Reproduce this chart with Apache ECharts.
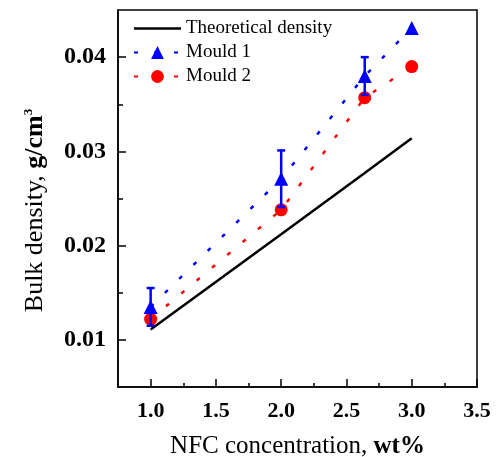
<!DOCTYPE html>
<html>
<head>
<meta charset="utf-8">
<script src="https://cdn.jsdelivr.net/npm/echarts@6/dist/echarts.min.js"></script>
<style>html,body{margin:0;padding:0;background:#fff}#c{width:498px;height:457px}</style>
</head>
<body>
<div id="c"></div>
<script>
var xMajorTicks = [1.0, 1.5, 2.0, 2.5, 3.0, 3.5];
var xMinorTicks = [1.25, 1.75, 2.25, 2.75, 3.25];
var yMajorTicks = [0.01, 0.02, 0.03, 0.04];
var yMinorTicks = [0.015, 0.025, 0.035];

var concentrations = [1.0, 2.0, 2.64, 3.0];
var theoretical = [0.0111, 0.0212, 0.0277, 0.0314];
var mould1 = [0.0135, 0.0271, 0.0380, 0.0431];
var mould1Err = [0.0020, 0.0030, 0.0020, 0.0];
var mould2 = [0.0122, 0.0238, 0.0357, 0.0390];

var FONT = '"Liberation Serif", "Times New Roman", serif';
var BLUE = '#0000ff', RED = '#ff0000';

function pairs(xs, ys) { return xs.map(function (x, i) { return [x, ys[i]]; }); }
var errData = concentrations.map(function (x, i) {
  return [x, mould1[i] - mould1Err[i], mould1[i] + mould1Err[i]];
}).filter(function (d, i) { return mould1Err[i] > 0; });

var chart = echarts.init(document.getElementById('c'), null, {renderer: 'canvas'});
chart.setOption({
  animation: false,
  backgroundColor: '#fff',
  grid: {left: 118, top: 10, right: 21, bottom: 70, show: true, borderColor: '#000', borderWidth: 1.5,
    backgroundColor: 'transparent', containLabel: false, outerBoundsMode: 'none'},
  legend: {
    left: 133, top: 19, padding: 0, orient: 'vertical', itemWidth: 47, itemHeight: 16, itemGap: 5,
    textStyle: {fontFamily: FONT, fontSize: 19, color: '#000', lineHeight: 19},
    data: [
      {name: 'Theoretical density', icon: 'path://M0,0L47,0L47,2.5L0,2.5Z', itemStyle: {color: '#000'}},
      'Mould 1', 'Mould 2'
    ]
  },
  xAxis: [{
    type: 'value', min: 0.75, max: 3.5,
    name: 'NFC concentration, {b|wt%}', nameLocation: 'middle', nameGap: 47,
    nameTextStyle: {fontFamily: FONT, fontSize: 25, color: '#000', rich: {b: {fontFamily: FONT, fontSize: 25, fontWeight: 'bold', color: '#000'}}},
    axisLine: {show: true, lineStyle: {color: '#000', width: 1.5}},
    axisTick: {show: true, inside: true, length: 8, lineStyle: {color: '#000', width: 1.5}, customValues: xMajorTicks},
    axisLabel: {fontFamily: FONT, fontSize: 22, fontWeight: 'bold', color: '#000', margin: 13,
      customValues: xMajorTicks, formatter: function (v) { return v.toFixed(1); }},
    splitLine: {show: false}
  }, {
    type: 'value', min: 0.75, max: 3.5, position: 'bottom', offset: 0,
    axisLine: {show: false},
    axisTick: {show: true, inside: true, length: 4, lineStyle: {color: '#000', width: 1.5}, customValues: xMinorTicks},
    axisLabel: {show: false}, splitLine: {show: false}
  }],
  yAxis: [{
    type: 'value', min: 0.005, max: 0.045,
    name: 'Bulk density, {b|g/cm}{s|3}', nameLocation: 'middle', nameGap: 70,
    nameTextStyle: {fontFamily: FONT, fontSize: 26, color: '#000', padding: [0, 24, 0, 0], rich: {
      b: {fontFamily: FONT, fontSize: 26, fontWeight: 'bold', color: '#000'},
      s: {fontFamily: FONT, fontSize: 13, fontWeight: 'bold', color: '#000', verticalAlign: 'top'}
    }},
    axisLine: {show: true, lineStyle: {color: '#000', width: 1.5}},
    axisTick: {show: true, inside: true, length: 8, lineStyle: {color: '#000', width: 1.5}, customValues: yMajorTicks},
    axisLabel: {fontFamily: FONT, fontSize: 24, fontWeight: 'bold', color: '#000', margin: 12,
      customValues: yMajorTicks, formatter: function (v) { return v.toFixed(2); }},
    splitLine: {show: false}
  }, {
    type: 'value', min: 0.005, max: 0.045, position: 'left', offset: 0,
    axisLine: {show: false},
    axisTick: {show: true, inside: true, length: 5, lineStyle: {color: '#000', width: 1.5}, customValues: yMinorTicks},
    axisLabel: {show: false}, splitLine: {show: false}
  }],
  series: [{
    name: 'Theoretical density', type: 'line', data: pairs(concentrations, theoretical),
    symbol: 'none', lineStyle: {color: '#000', width: 2.5}, itemStyle: {color: '#000'}, z: 2
  }, {
    name: 'Mould 2', type: 'line', data: pairs(concentrations, mould2),
    symbol: 'circle', symbolSize: 13, showAllSymbol: true,
    lineStyle: {color: RED, width: 2.5, type: [4, 16]}, itemStyle: {color: RED}, z: 3
  }, {
    name: 'Mould 1', type: 'line', data: pairs(concentrations, mould1),
    symbol: 'triangle', symbolSize: 14, showAllSymbol: true,
    lineStyle: {color: BLUE, width: 2.5, type: [4, 16]}, itemStyle: {color: BLUE}, z: 4
  }, {
    name: 'err', type: 'custom', data: errData, z: 5,
    renderItem: function (params, api) {
      var x = api.value(0);
      var lo = api.coord([x, api.value(1)]);
      var hi = api.coord([x, api.value(2)]);
      var w = 4;
      var st = {stroke: BLUE, lineWidth: 2.5};
      return {type: 'group', children: [
        {type: 'line', shape: {x1: lo[0], y1: lo[1], x2: hi[0], y2: hi[1]}, style: st},
        {type: 'line', shape: {x1: hi[0] - w, y1: hi[1], x2: hi[0] + w, y2: hi[1]}, style: st},
        {type: 'line', shape: {x1: lo[0] - w, y1: lo[1], x2: lo[0] + w, y2: lo[1]}, style: st}
      ]};
    }
  }]
});
</script>
</body>
</html>
